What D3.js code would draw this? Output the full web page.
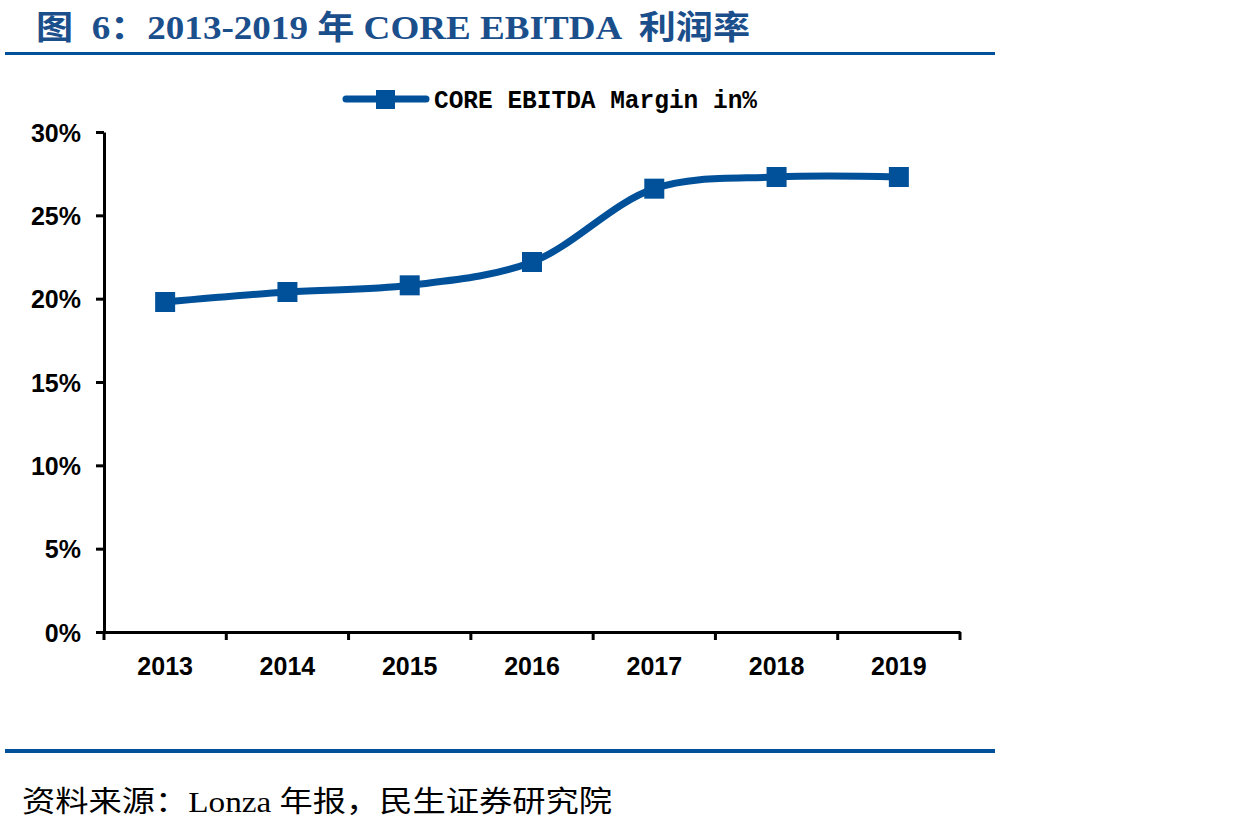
<!DOCTYPE html>
<html>
<head>
<meta charset="utf-8">
<script src="https://cdn.jsdelivr.net/npm/d3@7/dist/d3.min.js"></script>
<style>
  body { margin: 0; background: #fff; }
  svg { display: block; }
  text { white-space: pre; }
</style>
</head>
<body>
<svg id="chart" width="1244" height="834"></svg>
<script>
const years = ["2013", "2014", "2015", "2016", "2017", "2018", "2019"];
const margin = [19.8, 20.4, 20.8, 22.2, 26.6, 27.3, 27.3];
const yTicks = [0, 5, 10, 15, 20, 25, 30];
const seriesName = "CORE EBITDA Margin in%";
const titleText = "图  6：2013-2019 年 CORE EBITDA  利润率";
const sourceText = "资料来源：Lonza 年报，民生证券研究院";

const blue = "#00519a";
const svg = d3.select("#chart");

// title and rules
svg.append("text")
    .attr("x", 36).attr("y", 39)
    .attr("font-family", "'Liberation Serif', 'Noto Sans CJK SC', serif")
    .attr("font-weight", "bold")
    .attr("font-size", 33)
    .attr("fill", "#1b4f8c")
    .attr("textLength", 714)
    .attr("lengthAdjust", "spacingAndGlyphs")
    .text(titleText);

svg.append("rect").attr("x", 5).attr("y", 52).attr("width", 990).attr("height", 3).attr("fill", blue);
svg.append("rect").attr("x", 5).attr("y", 749).attr("width", 990).attr("height", 4).attr("fill", blue);

svg.append("text")
    .attr("x", 22).attr("y", 812)
    .attr("font-family", "'Liberation Serif', 'Noto Sans CJK SC', serif")
    .attr("font-size", 29)
    .attr("fill", "#000")
    .attr("textLength", 590)
    .attr("lengthAdjust", "spacingAndGlyphs")
    .text(sourceText);

// plot
const plot = { left: 104, right: 960, top: 132, bottom: 632 };

const x = d3.scaleBand()
    .domain(years)
    .range([plot.left, plot.right]);

const y = d3.scaleLinear()
    .domain([0, 30])
    .range([plot.bottom, plot.top]);

const yAxis = svg.append("g")
    .attr("transform", `translate(${plot.left},0)`)
    .call(d3.axisLeft(y).tickValues(yTicks).tickFormat(d => d + "%").tickSize(8).tickSizeOuter(0));

const xAxis = svg.append("g")
    .attr("transform", `translate(0,${plot.bottom})`)
    .call(d3.axisBottom(x).tickSize(0).tickSizeOuter(0));

// x boundary ticks
svg.append("g").selectAll("line")
    .data(years.concat(["end"]))
    .enter().append("line")
    .attr("x1", (d, i) => i < years.length ? x(d) : x(years[years.length - 1]) + x.bandwidth())
    .attr("x2", (d, i) => i < years.length ? x(d) : x(years[years.length - 1]) + x.bandwidth())
    .attr("y1", plot.bottom)
    .attr("y2", plot.bottom + 8)
    .attr("stroke", "#000")
    .attr("stroke-width", 3);

[yAxis, xAxis].forEach(a => {
    a.select(".domain").attr("stroke", "#000").attr("stroke-width", 3);
    a.selectAll(".tick line").attr("stroke", "#000").attr("stroke-width", 3);
    a.selectAll("text")
        .attr("font-family", "'Liberation Sans', Arial, sans-serif")
        .attr("font-weight", "bold")
        .attr("font-size", 25)
        .attr("fill", "#000");
});
yAxis.selectAll("text").attr("x", -23).attr("dy", "0.36em");
xAxis.selectAll("text").attr("y", 25).attr("dy", "0.71em");

// line
const line = d3.line()
    .x((d, i) => x(years[i]) + x.bandwidth() / 2)
    .y(d => y(d))
    .curve(d3.curveCatmullRom.alpha(0.5));

svg.append("path")
    .datum(margin)
    .attr("d", line)
    .attr("fill", "none")
    .attr("stroke", blue)
    .attr("stroke-width", 7)
    .attr("stroke-linecap", "round");

const ms = 20;
svg.append("g").selectAll("rect")
    .data(margin)
    .enter().append("rect")
    .attr("x", (d, i) => x(years[i]) + x.bandwidth() / 2 - ms / 2)
    .attr("y", d => y(d) - ms / 2)
    .attr("width", ms)
    .attr("height", ms)
    .attr("fill", blue);

// legend
const lg = svg.append("g");
lg.append("line")
    .attr("x1", 346).attr("x2", 426).attr("y1", 99).attr("y2", 99)
    .attr("stroke", blue).attr("stroke-width", 7).attr("stroke-linecap", "round");
lg.append("rect")
    .attr("x", 376).attr("y", 90).attr("width", 19).attr("height", 19)
    .attr("fill", blue);
lg.append("text")
    .attr("x", 434).attr("y", 108)
    .attr("font-family", "'Liberation Mono', 'DejaVu Sans Mono', monospace")
    .attr("font-weight", "bold")
    .attr("font-size", 26)
    .attr("fill", "#000")
    .attr("textLength", 323)
    .attr("lengthAdjust", "spacingAndGlyphs")
    .text(seriesName);
</script>
</body>
</html>
